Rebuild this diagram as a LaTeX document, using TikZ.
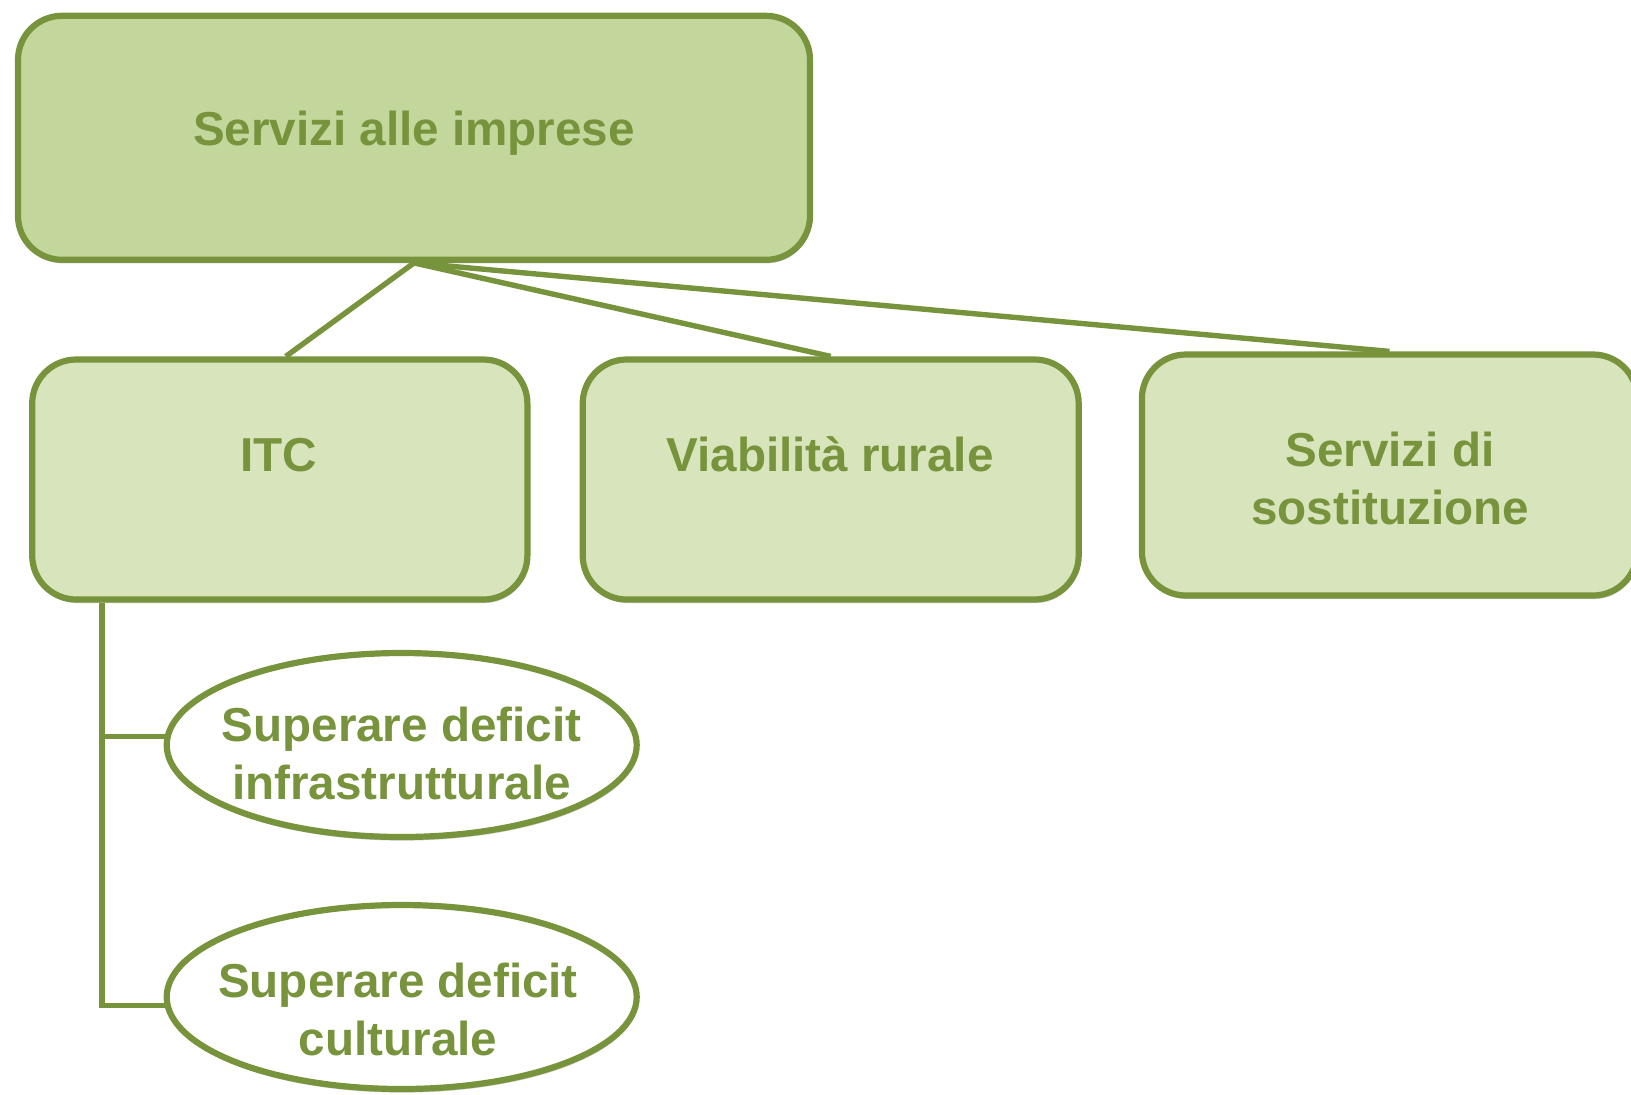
\documentclass[tikz,border=0pt]{standalone}
\usepackage{fontspec}
\setmainfont{Liberation Sans}
\usetikzlibrary{shapes.geometric,shadows,calc}
\definecolor{gstroke}{HTML}{77933C}
\definecolor{gtop}{HTML}{C3D69B}
\definecolor{gchild}{HTML}{D7E4BC}
\begin{document}
\begin{tikzpicture}[x=0.5pt,y=-0.5pt,
  shad/.style={drop shadow={opacity=0.3,fill=black!60,shadow xshift=0.5pt,shadow yshift=-1.8pt}},
  box/.style={draw=gstroke,line width=3.1pt,rounded corners=22pt,inner sep=0pt,shad},
  oval/.style={ellipse,draw=gstroke,line width=3.1pt,fill=white,inner sep=0pt,shad},
  lbl/.style={text=gstroke,font=\fontsize{23.8}{28.8}\selectfont\bfseries,align=center,inner sep=0pt,anchor=base},
  conn/.style={draw=gstroke,line width=2.7pt}]
\useasboundingbox (0,0) rectangle (1631,1094);
% boxes
\node[box,fill=gtop,minimum width=396pt,minimum height=122pt] (top) at (414,137.8) {};
\node[box,fill=gchild,minimum width=247.6pt,minimum height=120pt] (itc) at (279.8,479.5) {};
\node[box,fill=gchild,minimum width=248pt,minimum height=120pt] (via) at (830.7,479.5) {};
\node[box,fill=gchild,minimum width=247.6pt,minimum height=120.5pt] (sost) at (1389.5,475) {};
% ellipses
\node[oval,minimum width=235pt,minimum height=92pt] (e1) at (401.7,745) {};
\node[oval,minimum width=235pt,minimum height=92pt] (e2) at (401.7,997) {};
% connectors
\draw[conn] (top.south) -- ($(itc.north)+(6,0)$);
\draw[conn] (top.south) -- (via.north);
\draw[conn] (top.south) -- (sost.north);
\coordinate (trunk) at ($(itc.south west)+(73,0)$);
\draw[conn] (trunk) |- (e2.182);
\draw[conn] (trunk |- e1.178) -- (e1.178);
% labels
\node[lbl] (ttop) at (414,145) {Servizi alle imprese};
\node[lbl] (titc) at (279,471) {ITC};
\node[lbl] (tvia) at (830,471) {Viabilità rurale};
\node[lbl] (tsost) at (1390,524.3) {Servizi di\\sostituzione};
\node[lbl] (te1) at (401.5,799.3) {Superare deficit\\infrastrutturale};
\node[lbl] (te2) at (398,1055) {Superare deficit\\culturale};
\end{tikzpicture}
\end{document}
